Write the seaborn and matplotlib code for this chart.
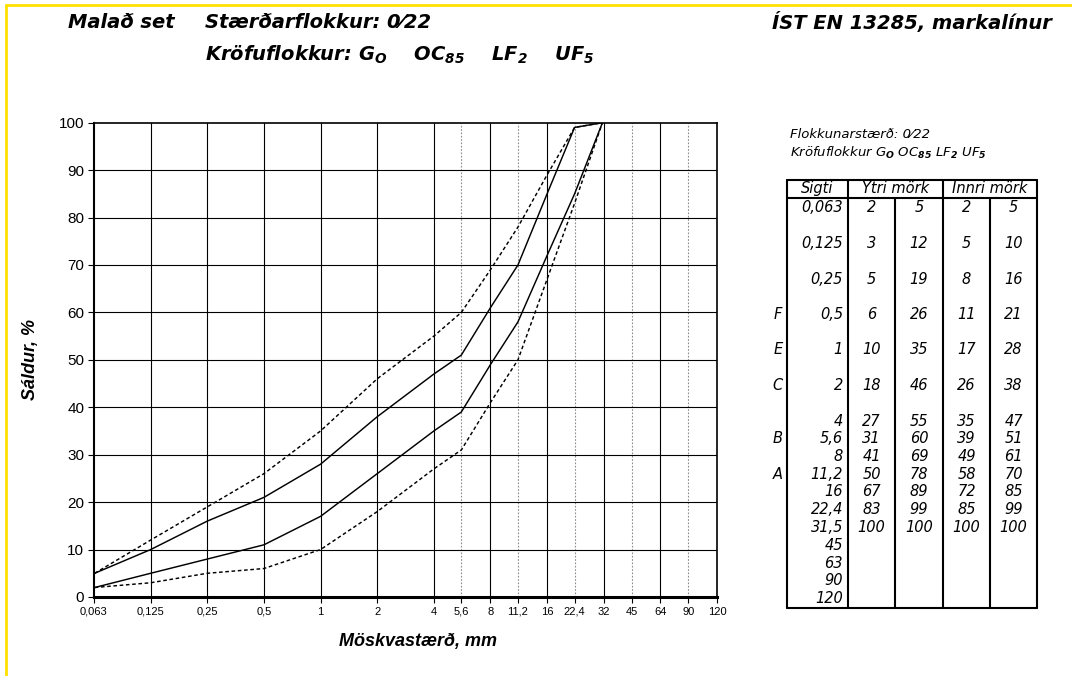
import pandas as pd
import matplotlib.pyplot as plt
import seaborn as sns
from matplotlib.lines import Line2D

# Sieve sizes (mm) and grading envelopes for crushed aggregate 0/22
sieves = [0.063, 0.125, 0.25, 0.5, 1, 2, 4, 5.6, 8, 11.2, 16, 22.4, 31.5]
outer_low = [2, 3, 5, 6, 10, 18, 27, 31, 41, 50, 67, 83, 100]
outer_high = [5, 12, 19, 26, 35, 46, 55, 60, 69, 78, 89, 99, 100]
inner_low = [2, 5, 8, 11, 17, 26, 35, 39, 49, 58, 72, 85, 100]
inner_high = [5, 10, 16, 21, 28, 38, 47, 51, 61, 70, 85, 99, 100]

# x axis ticks (the axis runs on a doubling scale, 0,063 ... 120)
x_ticks = [0.0625, 0.125, 0.25, 0.5, 1, 2, 4, 5.6, 8, 11.2, 16, 22.4, 32, 45, 64, 90, 128]
x_labels = ['0,063', '0,125', '0,25', '0,5', '1', '2', '4', '5,6', '8', '11,2',
            '16', '22,4', '32', '45', '64', '90', '120']
dotted_ticks = [5.6, 11.2, 22.4, 45, 90]
y_ticks = [0, 10, 20, 30, 40, 50, 60, 70, 80, 90, 100]

# table on the right
table_sieves = ['0,063', '0,125', '0,25', '0,5', '1', '2', '4', '5,6', '8', '11,2',
                '16', '22,4', '31,5', '45', '63', '90', '120']
row_letters = {'0,5': 'F', '1': 'E', '2': 'C', '5,6': 'B', '11,2': 'A'}

W, H = 1072, 676


def fx(x):
    return x / W


def fy(y):
    return 1 - y / H


sns.set_theme(style='white')
plt.rcParams['font.family'] = ['Liberation Sans', 'DejaVu Sans']
for key in ['text.color', 'axes.labelcolor', 'xtick.color', 'ytick.color']:
    plt.rcParams[key] = 'black'
plt.rcParams['mathtext.fontset'] = 'custom'
plt.rcParams['mathtext.rm'] = 'DejaVu Sans:italic:bold'
plt.rcParams['mathtext.it'] = 'DejaVu Sans:italic:bold'
plt.rcParams['mathtext.bf'] = 'DejaVu Sans:italic:bold'
plt.rcParams['mathtext.default'] = 'rm'

frames = []
for name, vals, kind in [('ytri_nedri', outer_low, 'Ytri'), ('ytri_efri', outer_high, 'Ytri'),
                         ('innri_nedri', inner_low, 'Innri'), ('innri_efri', inner_high, 'Innri')]:
    frames.append(pd.DataFrame({'sigti': sieves, 'saldur': vals, 'mork': name, 'gerd': kind}))
df = pd.concat(frames, ignore_index=True)

fig = plt.figure(figsize=(W / 100, H / 100), dpi=100)
ax = fig.add_axes([fx(94), fy(597), (717 - 94) / W, (597 - 122.7) / H])

ax.set_xscale('log', base=2)
ax.set_xlim(x_ticks[0], x_ticks[-1])
ax.set_ylim(0, 100)

# grid: solid at the doubling sieves, dotted at the intermediate ones
for t in x_ticks[1:-1]:
    if t in dotted_ticks:
        ax.axvline(t, color='#8c8c8c', lw=0.8, ls=(0, (1.5, 1.5)), zorder=1)
    else:
        ax.axvline(t, color='black', lw=0.8, zorder=1)
for t in y_ticks[1:-1]:
    ax.axhline(t, color='black', lw=0.8, zorder=1)

sns.lineplot(data=df, x='sigti', y='saldur', units='mork', estimator=None, style='gerd',
             dashes={'Ytri': (2.5, 1.8), 'Innri': ''}, color='black', lw=1.05,
             legend=False, sort=False, ax=ax, zorder=3)

ax.set_xticks(x_ticks)
ax.set_xticklabels(x_labels, fontsize=8)
ax.xaxis.set_minor_locator(plt.NullLocator())
ax.set_yticks(y_ticks)
ax.set_yticklabels([str(v) for v in y_ticks], fontsize=11)
ax.tick_params(axis='both', direction='out', length=4, width=0.8, color='black',
               bottom=True, left=True, pad=3)
ax.grid(False)

for side, lw in [('left', 1.5), ('bottom', 2.2), ('top', 1.2), ('right', 1.2)]:
    ax.spines[side].set_visible(True)
    ax.spines[side].set_color('black')
    ax.spines[side].set_linewidth(lw)

ax.set_xlabel('Möskvastærð, mm', fontsize=13, fontweight='bold', fontstyle='italic')
ax.set_ylabel('Sáldur, %', fontsize=13, fontweight='bold', fontstyle='italic')
ax.xaxis.set_label_coords((418 - 94) / 623, -(633 - 597) / 474.3)
ax.yaxis.set_label_coords(-(94 - 39) / 623, 0.5)

# yellow page frame
fig.add_artist(Line2D([fx(6), fx(6)], [0, fy(5)], color='#FFE000', lw=2))
fig.add_artist(Line2D([fx(6), 1], [fy(5), fy(5)], color='#FFE000', lw=2))

# headings
title_kw = dict(fontsize=14, fontweight='bold', fontstyle='italic', va='center',
                family='DejaVu Sans')
fig.text(fx(68), fy(22), 'Malað set', **title_kw)
fig.text(fx(205), fy(22), 'Stærðarflokkur: 0\u204422', **title_kw)
fig.text(fx(205), fy(55), r'Kröfuflokkur: G$_O$    OC$_{85}$    LF$_2$    UF$_5$', **title_kw)
fig.text(fx(1052), fy(22), 'ÍST EN 13285, markalínur', ha='right', **title_kw)

# table
sub_kw = dict(fontsize=9.5, fontstyle='italic', va='center', family='DejaVu Sans')
fig.text(fx(790), fy(135), 'Flokkunarstærð: 0\u204422', **sub_kw)
fig.text(fx(790), fy(153), r'Kröfuflokkur G$_O$ OC$_{85}$ LF$_2$ UF$_5$', **sub_kw)

t_top, t_head, t_bot = 180, 198, 608
col_edges = [787, 848, 895, 943, 990, 1037]
tline = dict(color='black', lw=1.5)
for y in [t_top, t_head, t_bot]:
    fig.add_artist(Line2D([fx(col_edges[0]), fx(col_edges[-1])], [fy(y), fy(y)], **tline))
for x in [787, 848, 943, 1037]:
    fig.add_artist(Line2D([fx(x), fx(x)], [fy(t_top), fy(t_bot)], **tline))
for x in [895, 990]:
    fig.add_artist(Line2D([fx(x), fx(x)], [fy(t_head), fy(t_bot)], **tline))

cell_kw = dict(fontsize=10.5, fontstyle='italic', va='center', family='DejaVu Sans')
fig.text(fx(817), fy(189), 'Sigti', ha='center', **cell_kw)
fig.text(fx(895.5), fy(189), 'Ytri mörk', ha='center', **cell_kw)
fig.text(fx(990), fy(189), 'Innri mörk', ha='center', **cell_kw)

value_cols = [outer_low, outer_high, inner_low, inner_high]
col_centres = [871.5, 919, 966.5, 1013.5]
units = 0
for i, s in enumerate(table_sieves):
    y = 208 + units * 17.75
    units += 2 if i < 6 else 1
    fig.text(fx(843), fy(y), s, ha='right', **cell_kw)
    if s in row_letters:
        fig.text(fx(778), fy(y), row_letters[s], ha='center', **cell_kw)
    if i < len(sieves):
        for vals, cx in zip(value_cols, col_centres):
            fig.text(fx(cx), fy(y), str(vals[i]), ha='center', **cell_kw)

fig.savefig('out.png', dpi=100, facecolor='white')
